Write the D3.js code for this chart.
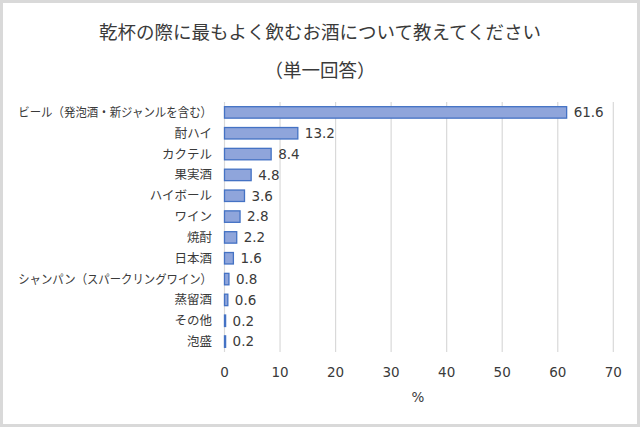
<!DOCTYPE html>
<html><head><meta charset="utf-8">
<script src="https://cdn.jsdelivr.net/npm/d3@7"></script>
<style>body{margin:0;background:#fff}svg{display:block}</style>
</head><body>
<script>
const categories = ["ビール（発泡酒・新ジャンルを含む）","酎ハイ","カクテル","果実酒","ハイボール","ワイン","焼酎","日本酒","シャンパン（スパークリングワイン）","蒸留酒","その他","泡盛"];
const values = [61.6,13.2,8.4,4.8,3.6,2.8,2.2,1.6,0.8,0.6,0.2,0.2];
const xTicks = [0,10,20,30,40,50,60,70];
const titleLines = ["乾杯の際に最もよく飲むお酒について教えてください","（単一回答）"];
const axisTitle = "%";

const W=640,H=427;
const svg=d3.select("body").append("svg").attr("width",W).attr("height",H);
svg.append("rect").attr("x",1.5).attr("y",1.5).attr("width",W-3).attr("height",H-3).attr("fill","#fff").attr("stroke","#d9d9d9").attr("stroke-width",3);

const jp="'Noto Sans CJK JP','Noto Sans',sans-serif";
const num="'DejaVu Sans',Verdana,sans-serif";

svg.selectAll("text.title").data(titleLines).enter().append("text")
  .attr("x",320).attr("y",(d,i)=>i===0?39:77).attr("text-anchor","middle")
  .attr("font-family",jp).attr("font-size",18.5).attr("fill","#3a3a3a").text(d=>d);

const x=d3.scaleLinear().domain([0,70]).range([224.5,613.3]);
const y=d3.scaleBand().domain(categories).range([102,352]).paddingInner(0.45).paddingOuter(0.225);

svg.append("g").selectAll("line").data(xTicks).enter().append("line")
  .attr("x1",d=>x(d)).attr("x2",d=>x(d)).attr("y1",102).attr("y2",352)
  .attr("stroke","#d9d9d9").attr("stroke-width",1.2);

svg.append("g").selectAll("rect").data(values).enter().append("rect")
  .attr("x",x(0)).attr("y",(d,i)=>y(categories[i]))
  .attr("width",d=>x(d)-x(0)).attr("height",y.bandwidth())
  .attr("fill","#8fa5db").attr("stroke","#4472c4").attr("stroke-width",1.3);

svg.append("g").selectAll("text").data(values).enter().append("text")
  .attr("x",d=>x(d)+7).attr("y",(d,i)=>y(categories[i])+y.bandwidth()/2)
  .attr("dy","0.36em").attr("font-family",num).attr("font-size",13.5).attr("fill","#3a3a3a")
  .text(d=>d.toFixed(1));

const fs=12.5;
svg.append("g").selectAll("text").data(categories).enter().append("text")
  .attr("x",212).attr("y",d=>y(d)+y.bandwidth()/2).attr("dy","0.36em")
  .attr("text-anchor","end").attr("font-family",jp).attr("font-size",fs).attr("fill","#3a3a3a").text(d=>d)
  .each(function(d){
    const br=(d.match(/[（）]/g)||[]).length;
    if(br>0){
      const target=(d.length-br)*fs*0.96+br*fs*0.55;
      d3.select(this).attr("textLength",target).attr("lengthAdjust","spacingAndGlyphs");
    }
  });

svg.append("g").selectAll("text").data(xTicks).enter().append("text")
  .attr("x",d=>x(d)).attr("y",372).attr("dy","0.36em").attr("text-anchor","middle")
  .attr("font-family",num).attr("font-size",13.5).attr("fill","#3a3a3a").text(d=>d);

svg.append("text").attr("x",418).attr("y",397).attr("dy","0.36em").attr("text-anchor","middle")
  .attr("font-family",num).attr("font-size",13.5).attr("fill","#3a3a3a").text(axisTitle);
</script>
</body></html>
